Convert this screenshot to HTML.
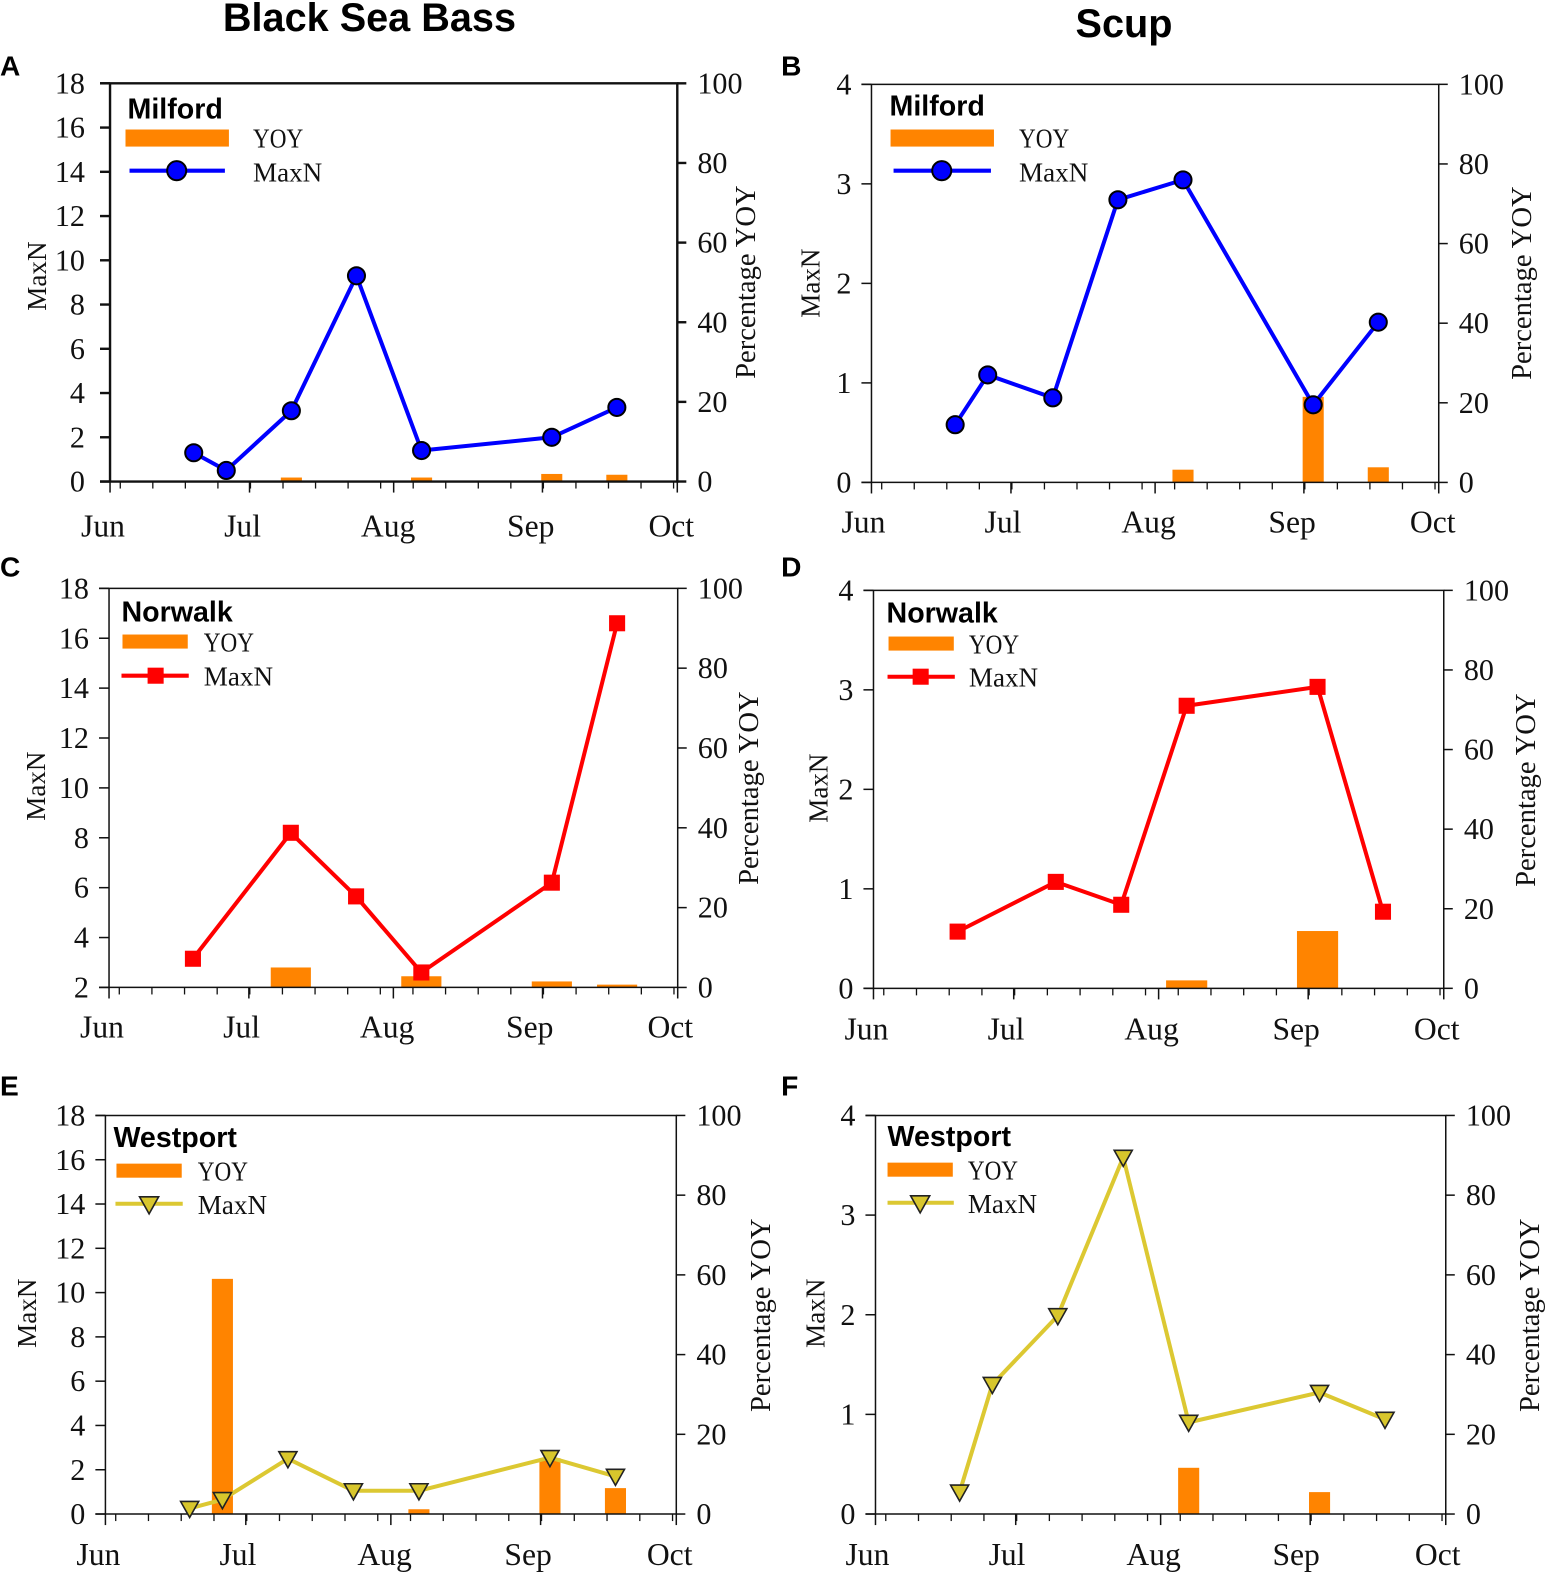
<!DOCTYPE html>
<html>
<head>
<meta charset="utf-8">
<title>Black Sea Bass and Scup MaxN</title>
<style>
html,body{margin:0;padding:0;background:#fff;}
svg{display:block;}
text{font-family:"Liberation Serif",serif;font-size:27px;fill:#111;}
.b{font-family:"Liberation Sans",sans-serif;font-weight:bold;fill:#000;}
.title{font-size:39.5px;}
.letter{font-size:28px;}
.site{font-size:28.5px;}
.pct{font-size:28.5px;}
.tick{font-size:30px;}
.month{font-size:31.5px;}
</style>
</head>
<body>
<svg xmlns="http://www.w3.org/2000/svg" width="1549" height="1574" viewBox="0 0 1549 1574">
<g id="root" transform="scale(1.004)">
  <text class="b title" x="368" y="31" text-anchor="middle">Black Sea Bass</text>
  <text class="b title" x="1119.5" y="37" text-anchor="middle">Scup</text>

  <text class="b letter" x="0" y="75">A</text>
  <text class="b letter" x="778" y="75">B</text>
  <text class="b letter" x="0" y="574">C</text>
  <text class="b letter" x="778" y="574">D</text>
  <text class="b letter" x="0" y="1091">E</text>
  <text class="b letter" x="778" y="1091">F</text>

  <text transform="translate(46,275) rotate(-90)" text-anchor="middle">MaxN</text>
  <text class="pct" transform="translate(752,281) rotate(-90)" text-anchor="middle">Percentage YOY</text>
  <text transform="translate(816,282) rotate(-90)" text-anchor="middle">MaxN</text>
  <text class="pct" transform="translate(1525,282) rotate(-90)" text-anchor="middle">Percentage YOY</text>
  <text transform="translate(45,783) rotate(-90)" text-anchor="middle">MaxN</text>
  <text class="pct" transform="translate(755,785) rotate(-90)" text-anchor="middle">Percentage YOY</text>
  <text transform="translate(824,785) rotate(-90)" text-anchor="middle">MaxN</text>
  <text class="pct" transform="translate(1529,787) rotate(-90)" text-anchor="middle">Percentage YOY</text>
  <text transform="translate(36,1308) rotate(-90)" text-anchor="middle">MaxN</text>
  <text class="pct" transform="translate(767,1310) rotate(-90)" text-anchor="middle">Percentage YOY</text>
  <text transform="translate(821,1308) rotate(-90)" text-anchor="middle">MaxN</text>
  <text class="pct" transform="translate(1533,1310) rotate(-90)" text-anchor="middle">Percentage YOY</text>

  <g id="charts"></g>

  <g>
    <text class="b site" x="127" y="118">Milford</text>
    <rect x="125" y="129" width="103" height="17" fill="#ff8400"/>
    <text x="252" y="147" textLength="50" lengthAdjust="spacingAndGlyphs">YOY</text>
    <line x1="129" y1="170" x2="224" y2="170" stroke="#0000ff" stroke-width="4"/>
    <circle cx="176" cy="170" r="9.5" fill="#0000ff" stroke="#000" stroke-width="2"/>
    <text x="252" y="181">MaxN</text>
  </g>
  <g>
    <text class="b site" x="886" y="115">Milford</text>
    <rect x="887" y="129" width="103" height="17" fill="#ff8400"/>
    <text x="1015" y="147" textLength="50" lengthAdjust="spacingAndGlyphs">YOY</text>
    <line x1="890" y1="170" x2="987" y2="170" stroke="#0000ff" stroke-width="4"/>
    <circle cx="938" cy="170" r="9.5" fill="#0000ff" stroke="#000" stroke-width="2"/>
    <text x="1015" y="181">MaxN</text>
  </g>
  <g>
    <text class="b site" x="121" y="619">Norwalk</text>
    <rect x="122" y="632" width="65" height="14" fill="#ff8400"/>
    <text x="203" y="649" textLength="50" lengthAdjust="spacingAndGlyphs">YOY</text>
    <line x1="121" y1="673" x2="188" y2="673" stroke="#ff0000" stroke-width="4"/>
    <rect x="147" y="665" width="16" height="16" fill="#ff0000"/>
    <text x="203" y="683">MaxN</text>
  </g>
  <g>
    <text class="b site" x="883" y="620">Norwalk</text>
    <rect x="885" y="634" width="65" height="14" fill="#ff8400"/>
    <text x="965" y="651" textLength="50" lengthAdjust="spacingAndGlyphs">YOY</text>
    <line x1="884" y1="674" x2="951" y2="674" stroke="#ff0000" stroke-width="4"/>
    <rect x="909" y="666" width="16" height="16" fill="#ff0000"/>
    <text x="965" y="684">MaxN</text>
  </g>
  <g>
    <text class="b site" x="113" y="1142.5">Westport</text>
    <rect x="116" y="1159" width="65" height="14" fill="#ff8400"/>
    <text x="197" y="1176" textLength="50" lengthAdjust="spacingAndGlyphs">YOY</text>
    <line x1="115" y1="1199" x2="182" y2="1199" stroke="#dcc832" stroke-width="4"/>
    <path d="M139,1192 L158,1192 L148.5,1209 Z" fill="#d8c62c" stroke="#222" stroke-width="1.6"/>
    <text x="197" y="1209">MaxN</text>
  </g>
  <g>
    <text class="b site" x="884" y="1141.5">Westport</text>
    <rect x="884" y="1158" width="65" height="14" fill="#ff8400"/>
    <text x="964" y="1175" textLength="50" lengthAdjust="spacingAndGlyphs">YOY</text>
    <line x1="884" y1="1198" x2="950" y2="1198" stroke="#dcc832" stroke-width="4"/>
    <path d="M907,1191 L926,1191 L916.5,1208 Z" fill="#d8c62c" stroke="#222" stroke-width="1.6"/>
    <text x="964" y="1208">MaxN</text>
  </g>
</g>
</svg>
<script>
/* Sampling days, counted from 1 June */
const surveyDaysFull = [18, 25, 39, 53, 67, 95, 109];
const surveyDaysNoJune25 = [18, 39, 53, 67, 95, 109];

/* MaxN values */
const maxnA = [1.3, 0.5, 3.2, 9.3, 1.4, 2.0, 3.35];
const maxnB = [0.58, 1.08, 0.85, 2.84, 3.04, 0.78, 1.61];
const maxnC = [3.15, 8.2, 5.65, 2.6, 6.2, 16.6];
const maxnD = [0.57, 1.07, 0.84, 2.84, 3.03, 0.77];
const maxnE = [0.25, 0.65, 2.5, 1.05, 1.05, 2.55, 1.7];
const maxnF = [0.22, 1.3, 1.99, 3.58, 0.92, 1.22, 0.95];

/* Percentage YOY values */
const yoyA = [0, 0, 1, 0, 1, 1.9, 1.7];
const yoyB = [0, 0, 0, 0, 3.2, 21.5, 3.8];
const yoyC = [0, 5, 0, 2.8, 1.5, 0.7];
const yoyD = [0, 0, 0, 2, 14.4, 0];
const yoyE = [0, 59, 0, 0, 1.2, 14, 6.5];
const yoyF = [0, 0, 0, 0, 11.6, 5.5, 0];

/* Tick labels */
const bassTicks = [0, 2, 4, 6, 8, 10, 12, 14, 16, 18];
const bassTicksFrom2 = [2, 4, 6, 8, 10, 12, 14, 16, 18];
const scupTicks = [0, 1, 2, 3, 4];
const percentTicks = [0, 20, 40, 60, 80, 100];
const monthLabels = ['Jun', 'Jul', 'Aug', 'Sep', 'Oct'];
const monthDays = [0, 30, 61, 93, 122];
const weekStart = 2.2;
const weekStep = 7;
const seasonLength = 122;

const SVGNS = 'http://www.w3.org/2000/svg';
const chartsRoot = document.getElementById('charts');

function mk(parent, tag, attrs, txt) {
  const el = document.createElementNS(SVGNS, tag);
  for (const k in attrs) el.setAttribute(k, attrs[k]);
  if (txt !== undefined) el.textContent = txt;
  parent.appendChild(el);
  return el;
}

const panels = [
  {id:'a', left:109.6, right:674.6, top:83, bottom:479.6, ymin:0, ymax:18, ticks:bassTicks, days:surveyDaysFull, maxn:maxnA, yoy:yoyA, color:'#0000ff', marker:'circle', barW:21, axis:2.4, lg:25, labY:55, labX:[-7,132,277,419,559]},
  {id:'b', left:868, right:1433, top:84, bottom:480.5, ymin:0, ymax:4, ticks:scupTicks, days:surveyDaysFull, maxn:maxnB, yoy:yoyB, color:'#0000ff', marker:'circle', barW:21, axis:1.5, lg:20, labY:50, labX:[-8,131,276,419,559]},
  {id:'c', left:108.6, right:675, top:586, bottom:983.5, ymin:2, ymax:18, ticks:bassTicksFrom2, days:surveyDaysNoJune25, maxn:maxnC, yoy:yoyC, color:'#ff0000', marker:'square', barW:40, axis:1.5, lg:20, labY:50, labX:[-7,132,277,419,559]},
  {id:'d', left:870, right:1438, top:588, bottom:984.4, ymin:0, ymax:4, ticks:scupTicks, days:surveyDaysNoJune25, maxn:maxnD, yoy:yoyD, color:'#ff0000', marker:'square', barW:41, axis:1.5, lg:20, labY:51, labX:[-7,132,277,421,561]},
  {id:'e', left:105, right:673.6, top:1111, bottom:1508, ymin:0, ymax:18, ticks:bassTicks, days:surveyDaysFull, maxn:maxnE, yoy:yoyE, color:'#dcc832', marker:'triangle', barW:21, axis:1.5, lg:20, labY:51, labX:[-7,132,278,421,562]},
  {id:'f', left:872, right:1440, top:1111, bottom:1508, ymin:0, ymax:4, ticks:scupTicks, days:surveyDaysFull, maxn:maxnF, yoy:yoyF, color:'#dcc832', marker:'triangle', barW:21, axis:1.5, lg:20, labY:51, labX:[-8,131,277,419,560]}
];

panels.forEach(function (p) {
  const xScale = function (d) { return p.left + d / seasonLength * (p.right - p.left); };
  const yScale = function (v) { return p.bottom - (v - p.ymin) / (p.ymax - p.ymin) * (p.bottom - p.top); };
  const pctScale = function (v) { return p.bottom - v / 100 * (p.bottom - p.top); };

  const g = mk(chartsRoot, 'g', {});
  
  

  /* bars */
  p.yoy.forEach(function (v, i) {
    if (v <= 0) return;
    const bar = mk(g, 'rect', {x: xScale(p.days[i]) - p.barW / 2, y: pctScale(v), width: p.barW, height: p.bottom - pctScale(v), fill: '#ff8400'});
    
    
  });

  /* frame */
  const axisStyle = {stroke: '#111', 'stroke-width': p.axis, fill: 'none'};
  const frame = mk(g, 'path', Object.assign({d: 'M' + (p.left - 10) + ',' + p.top + ' H' + p.right + ' V' + p.bottom + ' H' + (p.left - 10) + ' M' + p.left + ',' + p.top + ' V' + p.bottom}, axisStyle));
  
  

  /* primary y ticks */
  p.ticks.forEach(function (t) {
    const tick = mk(g, 'line', Object.assign({x1: p.left - 10, x2: p.left, y1: yScale(t), y2: yScale(t)}, axisStyle));
    
    
    const lab = mk(g, 'text', {class: 'tick', x: p.left - p.lg, y: yScale(t) + 10, 'text-anchor': 'end'}, String(t));
    
    
  });

  /* secondary y ticks */
  percentTicks.forEach(function (t) {
    const tick = mk(g, 'line', Object.assign({x1: p.right, x2: p.right + 9, y1: pctScale(t), y2: pctScale(t)}, axisStyle));
    
    
    const lab = mk(g, 'text', {class: 'tick', x: p.right + 20, y: pctScale(t) + 10}, String(t));
    
    
  });

  /* weekly minor ticks */
  for (let d = weekStart; d <= seasonLength; d += weekStep) {
    const tick = mk(g, 'line', {x1: xScale(d), x2: xScale(d), y1: p.bottom, y2: p.bottom + 7, stroke: '#111', 'stroke-width': 1.3});
    
    
  }

  /* month ticks and labels */
  monthLabels.forEach(function (m, i) {
    const tick = mk(g, 'line', {x1: xScale(monthDays[i]), x2: xScale(monthDays[i]), y1: p.bottom, y2: p.bottom + 11, stroke: '#111', 'stroke-width': 1.5});
    
    
    const lab = mk(g, 'text', {class: 'month', x: p.left + p.labX[i], y: p.bottom + p.labY, 'text-anchor': 'middle'}, m);
    
    
  });

  /* line */
  const pts = p.days.map(function (d, i) { return xScale(d) + ',' + yScale(p.maxn[i]); }).join(' ');
  const line = mk(g, 'polyline', {points: pts, fill: 'none', stroke: p.color, 'stroke-width': 4, 'stroke-linejoin': 'round'});
  
  

  /* markers */
  p.days.forEach(function (d, i) {
    const cx = xScale(d);
    const cy = yScale(p.maxn[i]);
    let m;
    if (p.marker === 'circle') {
      m = mk(g, 'circle', {cx: cx, cy: cy, r: 8.5, fill: '#0000ff', stroke: '#000', 'stroke-width': 2});
    } else if (p.marker === 'square') {
      m = mk(g, 'rect', {x: cx - 8, y: cy - 8, width: 16, height: 16, fill: '#ff0000'});
    } else {
      m = mk(g, 'path', {d: 'M' + (cx - 9) + ',' + (cy - 7) + ' L' + (cx + 9) + ',' + (cy - 7) + ' L' + cx + ',' + (cy + 9) + ' Z', fill: '#d8c62c', stroke: '#222', 'stroke-width': 1.6});
    }
    
    
  });
});
</script>
</body>
</html>
